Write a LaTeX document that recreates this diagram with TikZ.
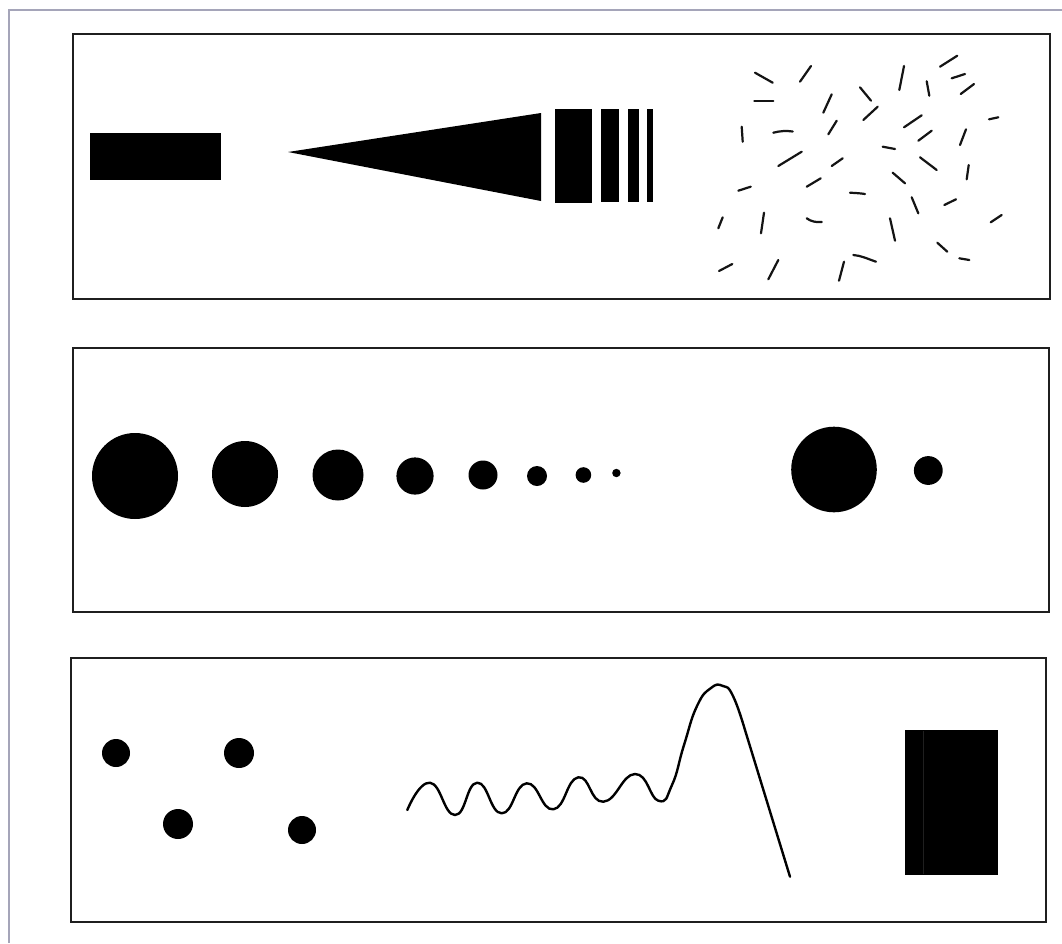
\documentclass[tikz,border=0pt]{standalone}
\begin{document}
\begin{tikzpicture}[x=1pt,y=-1pt,
  panel/.style={draw=black!88, line width=1.8pt},
  outerframe/.style={draw={rgb,255:red,165;green,165;blue,185}, line width=1.4pt},
  blob/.style={fill=black, draw=none},
  hair/.style={draw=black!92, line width=2.2pt, line cap=round},
  wave/.style={draw=black, line width=2.4pt, line cap=round, line join=round}]
\useasboundingbox (0,0) rectangle (1062,943);
\fill[white] (0,0) rectangle (1062,943);
% outer frame (top and left edges)
\draw[outerframe] (9,943) -- (9,10) -- (1062,10);
% panels
\draw[panel] (73,34) rectangle (1050,299);
\draw[panel] (73,348) rectangle (1049,612);
\draw[panel] (71,658) rectangle (1046,922);
% ---------- panel 1 ----------
\fill[blob] (90,133) rectangle (221,180);
\fill[blob] (288,152) -- (541,113) -- (541,201) -- cycle;
\fill[blob] (555,109) rectangle (592,203);
\fill[blob] (601,109) rectangle (619,202);
\fill[blob] (628,109) rectangle (639,202);
\fill[blob] (647,109) rectangle (653,202);
% scattered strokes
\foreach \ax/\ay/\bx/\by in {
 755/72.7/772.7/82.7, 800/81.7/811/66, 899.3/90/904/66, 940/66.7/957.3/55.7,
 951.7/78.3/965/74, 960.7/94/974/84, 926.7/81.3/929.3/95.7, 754.3/101.3/773.3/101.3,
 823.3/112.7/831.7/94.3, 860/87.3/871/100.7, 863.3/120/877.7/106.7, 904/127.3/921.7/115.3,
 989/119.3/998.3/117.3, 741.7/126.7/742.7/141.7, 828.3/134.3/836.7/120.7,
 918.3/140.7/931.7/130.7, 960/145/966/129.3, 882.7/146.7/895/149, 778.3/166/801.7/151.7,
 831.7/166/842.7/158.3, 920/157.3/936.7/170, 966.7/179.3/968.7/165, 892.7/172.7/905/183.3,
 738.3/190.7/750.7/186.7, 806.7/186.7/820.7/178.3, 911.7/197.3/918.3/213.3,
 944.3/205/956/199.3, 718.3/228.3/722.7/217.3, 761/233.3/764/212.7, 890/218.3/895/240.7,
 990.7/222.3/1001.7/215, 937.3/242.7/947.3/251.7, 959.3/258.3/969.3/260,
 719/271/732.3/264, 768.3/279.3/778.3/260, 839/280.7/844/261.7}
 {\draw[hair] (\ax,\ay) -- (\bx,\by);}
\draw[hair] (773.3,132.7) .. controls (780,131) and (786,130.5) .. (792.7,131.5);
\draw[hair] (806.7,218.3) .. controls (811,221.5) and (816,222.5) .. (821.7,222);
\draw[hair] (850,192.7) .. controls (855,193) and (860,193.2) .. (865,194);
\draw[hair] (853.3,255) .. controls (861,255.5) and (868,259) .. (876,261.7);
% ---------- panel 2 ----------
\fill[blob] (135,476) circle (43);
\fill[blob] (245,474) circle (33);
\fill[blob] (338,475) circle (25.5);
\fill[blob] (415,476) circle (18.6);
\fill[blob] (483,475) circle (14.5);
\fill[blob] (537,476) circle (10);
\fill[blob] (583.4,475) circle (7.8);
\fill[blob] (616.4,473) circle (4.2);
\fill[blob] (834,469.5) circle (42.8);
\fill[blob] (928.3,470.5) circle (14.4);
% ---------- panel 3 ----------
\fill[blob] (116,753) circle (14);
\fill[blob] (239,753) circle (15);
\fill[blob] (178,824) circle (15);
\fill[blob] (302,830) circle (14);
\draw[wave] plot[smooth, tension=0.85] coordinates {
 (407.3,810) (430,782.7) (455,815) (477.3,782.7) (501.7,813.3) (526.7,783.3)
 (553.3,809.3) (578.3,777.3) (603.3,801.7) (635,774) (658.3,800.7) (672,785)
 (684,745) (697,706) (711,688) (723,686) (733,696) (745,730)} -- (790,876.7);
\fill[blob] (905,730) rectangle (998,875);
\draw[black!88, line width=0.5pt] (923,731) -- (923,874);
\end{tikzpicture}
\end{document}
